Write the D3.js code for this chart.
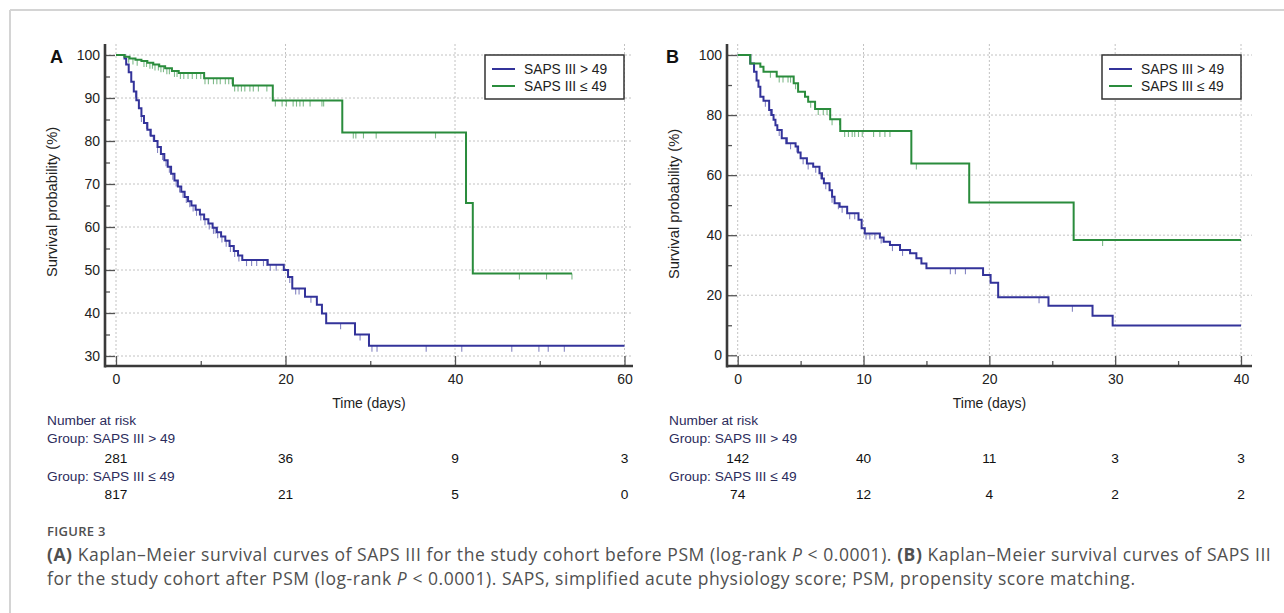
<!DOCTYPE html>
<html>
<head>
<meta charset="utf-8">
<script src="https://cdn.jsdelivr.net/npm/d3@7"></script>
<style>
  html, body { margin: 0; padding: 0; background: #fff; }
  #chart { width: 1284px; height: 613px; }
</style>
</head>
<body>
<div id="chart"></div>
<script>
// ---------- data ----------
const groups = ['SAPS III > 49', 'SAPS III \u2264 49'];

// panel A : before PSM  [time (days), survival (%)]
const aTicksX = [0, 20, 40, 60];
const aMinorX = [10, 30, 50];
const aTicksY = [30, 40, 50, 60, 70, 80, 90, 100];
const aMinorY = [35, 45, 55, 65, 75, 85, 95];
const aHigh = [[0,100],[1.0,99.2],[1.2,97.8],[1.5,96],[1.8,93.8],[2.1,91.5],[2.4,89.5],[2.7,87.6],[3.0,85.8],[3.3,84.2],
  [3.7,82.6],[4.1,81.2],[4.5,80],[4.9,78.6],[5.3,77],[5.7,75.5],[6.1,74],[6.5,72.4],[6.9,70.8],[7.3,69.4],[7.7,68.2],
  [8.1,67],[8.5,66],[8.9,65],[9.4,64],[9.9,62.9],[10.4,61.8],[10.9,60.8],[11.4,59.8],[11.9,58.8],[12.4,57.8],[12.9,56.8],
  [13.4,55.6],[13.9,54.4],[14.4,53.4],[14.9,52.3],[17.9,51.2],[19.8,50.0],[20.3,48.4],[20.8,45.7],[22.3,43.8],[23.7,41.9],
  [24.3,39.9],[24.8,37.6],[28.2,35.0],[29.85,32.4]];
const aHighEnd = 60;
const aHighCensor = [2.3,3.0,3.6,4.0,4.4,4.9,5.5,5.9,6.3,6.7,7.1,7.5,7.9,8.3,8.7,9.1,9.5,10.0,10.5,11.0,11.5,11.7,12.0,
  12.5,13.0,13.5,14.0,14.5,15.4,16.0,16.6,17.4,17.8,18.2,18.9,20.5,21.2,21.6,23.0,26.5,28.8,30.2,30.8,36.6,40.8,46.7,49.9,51.0,52.9];
const aLow = [[0,100],[1.0,99.6],[1.6,99.2],[2.3,98.9],[3.0,98.6],[3.7,98.2],[4.4,97.8],[5.1,97.4],[5.8,96.9],[6.6,96.3],
  [7.4,95.8],[10.4,94.6],[13.8,92.9],[18.5,89.4],[26.7,82.0],[41.3,65.6],[42.1,49.2]];
const aLowEnd = 53.8;
const aLowCensor = [1.5,2.0,2.5,3.3,3.6,4.0,4.3,4.6,5.0,5.3,5.6,6.0,6.3,6.9,7.2,7.6,8.0,8.5,9.0,9.5,10.0,10.5,10.9,11.5,
  11.9,12.3,12.9,13.3,13.7,14.0,14.4,14.8,15.2,15.8,16.2,16.8,17.8,18.8,19.6,20.1,20.9,21.3,21.7,22.1,22.9,24.3,24.5,
  28.0,28.3,29.2,30.7,37.7,47.6,50.8,53.8];
const aRiskTimes = [0, 20, 40, 60];
const aRiskHigh = [281, 36, 9, 3];
const aRiskLow = [817, 21, 5, 0];

// panel B : after PSM
const bTicksX = [0, 10, 20, 30, 40];
const bMinorX = [5, 15, 25, 35];
const bTicksY = [0, 20, 40, 60, 80, 100];
const bMinorY = [10, 30, 50, 70, 90];
const bHigh = [[0,100],[1.0,97.2],[1.3,94.4],[1.5,91.5],[1.65,89.4],[1.8,86.1],[2.05,84.8],[2.5,81.7],[2.7,80],[2.85,78.4],
  [3.0,76.6],[3.15,75],[3.5,72.3],[3.9,70.6],[4.6,69.5],[4.8,67.5],[5.0,65.6],[5.5,63.9],[6.0,62.8],[6.5,60.6],[6.7,58.9],
  [6.85,57.3],[7.3,55],[7.5,52.8],[7.7,50.6],[8.1,49.5],[8.7,47.3],[9.6,45.1],[9.85,42.3],[10.1,40.6],[11.3,39.2],[11.6,37.8],
  [12.1,36.7],[12.9,35.1],[13.7,34],[14.2,32.3],[14.6,30.6],[15.0,29.0],[19.5,26.7],[20.1,24.2],[20.7,19.3],[24.7,16.5],
  [28.2,13.2],[29.8,9.9]];
const bHighEnd = 40;
const bHighCensor = [2.2,2.6,3.3,3.8,4.2,4.7,5.2,5.6,6.2,6.6,7.0,7.5,8.0,8.3,8.9,9.3,10.2,10.5,10.9,11.4,12.3,13.1,16.9,17.3,18.1,23.95,26.6];
const bLow = [[0,100],[1.0,97.2],[1.8,96.1],[2.05,94.4],[3.1,92.8],[4.45,90.6],[4.8,87.8],[5.35,86.1],[5.6,84.4],[6.15,82.0],
  [7.35,78.6],[8.15,74.7],[13.8,63.9],[18.4,50.9],[26.7,38.4]];
const bLowEnd = 40;
const bLowCensor = [2.6,3.3,3.6,4.0,4.2,4.6,5.8,6.4,6.8,7.1,7.5,8.1,8.5,8.8,9.1,9.3,9.6,9.9,10.8,11.3,11.7,12.1,14.2,29.0];
const bRiskTimes = [0, 10, 20, 30, 40];
const bRiskHigh = [142, 40, 11, 3, 3];
const bRiskLow = [74, 12, 4, 2, 2];

// ---------- drawing ----------
const W = 1284, H = 613;
const colors = ['#33339a', '#2a8c3c'];
const chartFont = '"Liberation Sans", Arial, sans-serif';

const svg = d3.select('#chart').append('svg')
  .attr('width', W).attr('height', H);

// outer frame of the figure page
svg.append('line').attr('x1', 10).attr('x2', W).attr('y1', 10).attr('y2', 10)
  .attr('stroke', '#d4d4d4').attr('stroke-width', 2);
svg.append('line').attr('x1', 10).attr('x2', 10).attr('y1', 10).attr('y2', H)
  .attr('stroke', '#d4d4d4').attr('stroke-width', 2);

function survivalAt(steps, t) {
  let s = steps[0][1];
  for (const d of steps) { if (d[0] <= t) s = d[1]; }
  return s;
}

function drawPanel(p) {
  const g = svg.append('g').attr('font-family', chartFont);
  const x = d3.scaleLinear().domain(p.xDomain).range(p.xRange);
  const y = d3.scaleLinear().domain(p.yDomain).range(p.yRange);

  // dotted grid
  g.append('g').selectAll('line').data(p.ticksY).join('line')
    .attr('x1', p.axisX).attr('x2', p.right)
    .attr('y1', d => y(d)).attr('y2', d => y(d))
    .attr('stroke', '#c2c2c2').attr('stroke-dasharray', '2,2');
  g.append('g').selectAll('line').data(p.ticksX).join('line')
    .attr('x1', d => x(d)).attr('x2', d => x(d))
    .attr('y1', p.top).attr('y2', p.axisY)
    .attr('stroke', '#c2c2c2').attr('stroke-dasharray', '2,2');

  // axes (ticks point inward)
  const yAxis = g.append('g').attr('transform', `translate(${p.axisX},0)`)
    .call(d3.axisLeft(y).tickValues(p.ticksY).tickSize(-10).tickPadding(5));
  const yMinor = g.append('g').attr('transform', `translate(${p.axisX},0)`)
    .call(d3.axisLeft(y).tickValues(p.minorY).tickSize(-5).tickFormat(''));
  const xAxis = g.append('g').attr('transform', `translate(0,${p.axisY})`)
    .call(d3.axisBottom(x).tickValues(p.ticksX).tickSize(-10).tickPadding(8));
  const xMinor = g.append('g').attr('transform', `translate(0,${p.axisY})`)
    .call(d3.axisBottom(x).tickValues(p.minorX).tickSize(-5).tickFormat(''));
  [yAxis, yMinor, xAxis, xMinor].forEach(a => {
    a.attr('font-family', chartFont);
    a.select('.domain').remove();
    a.selectAll('.tick line').attr('stroke', '#555').attr('stroke-width', 1.3);
    a.selectAll('.tick text').attr('font-size', 14).attr('fill', '#222');
  });
  g.append('line').attr('x1', p.axisX).attr('x2', p.axisX)
    .attr('y1', p.top).attr('y2', p.axisY + 1.5)
    .attr('stroke', '#3a3a3a').attr('stroke-width', 2.6);
  g.append('line').attr('x1', p.axisX).attr('x2', p.right)
    .attr('y1', p.axisY).attr('y2', p.axisY)
    .attr('stroke', '#3a3a3a').attr('stroke-width', 2.6);

  // axis titles
  g.append('text')
    .attr('transform', `translate(${p.yTitleX},${p.yTitleY}) rotate(-90)`)
    .attr('text-anchor', 'middle').attr('font-size', 14.7).attr('fill', '#222')
    .text('Survival probability (%)');
  g.append('text').attr('x', (p.axisX + p.right) / 2).attr('y', 408)
    .attr('text-anchor', 'middle').attr('font-size', 14).attr('fill', '#222')
    .text('Time (days)');

  // panel letter
  g.append('text').attr('x', p.letterX).attr('y', 63)
    .attr('font-size', 18).attr('font-weight', 'bold').attr('fill', '#111')
    .text(p.letter);

  // survival curves + censor marks
  const line = d3.line().curve(d3.curveStepAfter)
    .x(d => x(d[0])).y(d => y(d[1]));
  p.series.forEach((s, i) => {
    const pts = s.steps.concat([[s.end, s.steps[s.steps.length - 1][1]]]);
    g.append('g').selectAll('line').data(s.censor).join('line')
      .attr('x1', d => x(d)).attr('x2', d => x(d))
      .attr('y1', d => y(survivalAt(s.steps, d)))
      .attr('y2', d => y(survivalAt(s.steps, d)) + 6)
      .attr('stroke', colors[i]).attr('stroke-opacity', 0.6).attr('stroke-width', 1.1);
    g.append('path').attr('d', line(pts))
      .attr('fill', 'none').attr('stroke', colors[i]).attr('stroke-width', 2);
  });

  // legend
  const lg = g.append('g').attr('transform', `translate(${p.legendX},55)`);
  lg.append('rect').attr('width', 139).attr('height', 44)
    .attr('fill', '#fff').attr('stroke', '#333').attr('stroke-width', 1.5);
  groups.forEach((name, i) => {
    lg.append('line').attr('x1', 7).attr('x2', 30).attr('y1', 14 + i * 17).attr('y2', 14 + i * 17)
      .attr('stroke', colors[i]).attr('stroke-width', 2);
    lg.append('text').attr('x', 39).attr('y', 19 + i * 17)
      .attr('font-size', 13.8).attr('fill', '#222').text(name);
  });

  // number at risk table
  const rt = g.append('g');
  const lab = '#2c2c5c';
  const fs = 13.7;
  rt.append('text').attr('x', p.tableX).attr('y', 425).attr('font-size', fs).attr('fill', lab).text('Number at risk');
  rt.append('text').attr('x', p.tableX).attr('y', 443).attr('font-size', fs).attr('fill', lab).text('Group: ' + groups[0]);
  rt.append('text').attr('x', p.tableX).attr('y', 481).attr('font-size', fs).attr('fill', lab).text('Group: ' + groups[1]);
  [p.riskHigh, p.riskLow].forEach((row, r) => {
    rt.append('g').selectAll('text').data(row).join('text')
      .attr('x', (d, i) => x(p.riskTimes[i]))
      .attr('y', r === 0 ? 463 : 499)
      .attr('text-anchor', 'middle').attr('font-size', fs).attr('fill', '#111')
      .text(d => d);
  });
}

drawPanel({
  letter: 'A', letterX: 50,
  xDomain: [0, 60], xRange: [116, 624.5],
  yDomain: [30, 100], yRange: [356, 55],
  axisX: 105, axisY: 366, top: 44, right: 633,
  yTitleX: 57, yTitleY: 202, tableX: 47, legendX: 485,
  ticksX: aTicksX, minorX: aMinorX, ticksY: aTicksY, minorY: aMinorY,
  series: [
    { steps: aHigh, end: aHighEnd, censor: aHighCensor },
    { steps: aLow, end: aLowEnd, censor: aLowCensor }
  ],
  riskTimes: aRiskTimes, riskHigh: aRiskHigh, riskLow: aRiskLow
});

drawPanel({
  letter: 'B', letterX: 666,
  xDomain: [0, 40], xRange: [737.7, 1241],
  yDomain: [0, 100], yRange: [355.3, 55],
  axisX: 727, axisY: 366, top: 44, right: 1252,
  yTitleX: 679, yTitleY: 204, tableX: 669, legendX: 1102,
  ticksX: bTicksX, minorX: bMinorX, ticksY: bTicksY, minorY: bMinorY,
  series: [
    { steps: bHigh, end: bHighEnd, censor: bHighCensor },
    { steps: bLow, end: bLowEnd, censor: bLowCensor }
  ],
  riskTimes: bRiskTimes, riskHigh: bRiskHigh, riskLow: bRiskLow
});

// caption
const capFont = '"Open Sans", "Noto Sans", sans-serif';
const cap = svg.append('g').attr('font-family', capFont).attr('fill', '#505050');
cap.append('text').attr('x', 47).attr('y', 536).attr('font-size', 13).attr('font-weight', 600)
  .attr('letter-spacing', 0.3).text('FIGURE 3');
const l1 = cap.append('text').attr('x', 47).attr('y', 561).attr('font-size', 17.5).attr('letter-spacing', 0.55);
l1.append('tspan').attr('font-weight', 700).text('(A)');
l1.append('tspan').text(' Kaplan\u2013Meier survival curves of SAPS III for the study cohort before PSM (log-rank ');
l1.append('tspan').attr('font-style', 'italic').text('P');
l1.append('tspan').text(' < 0.0001). ');
l1.append('tspan').attr('font-weight', 700).text('(B)');
l1.append('tspan').text(' Kaplan\u2013Meier survival curves of SAPS III');
const l2 = cap.append('text').attr('x', 47).attr('y', 585).attr('font-size', 17.5).attr('letter-spacing', 0.55);
l2.append('tspan').text('for the study cohort after PSM (log-rank ');
l2.append('tspan').attr('font-style', 'italic').text('P');
l2.append('tspan').text(' < 0.0001). SAPS, simplified acute physiology score; PSM, propensity score matching.');
</script>
</body>
</html>
